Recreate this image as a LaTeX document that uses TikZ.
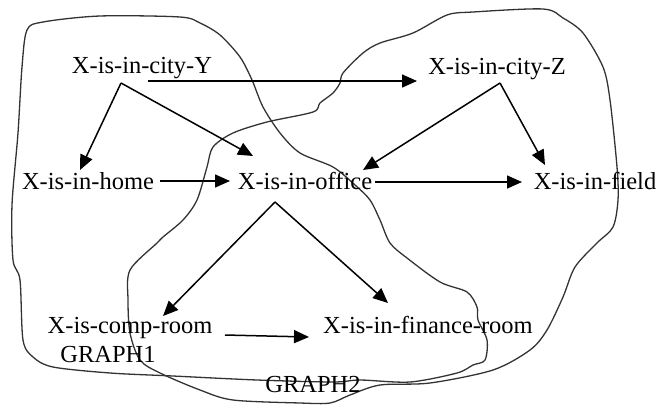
\documentclass[tikz,border=0pt]{standalone}
\usepackage{fontspec}
\setmainfont{Liberation Serif}
\usetikzlibrary{calc,arrows.meta}
\begin{document}
\begin{tikzpicture}[x=1pt,y=-1pt,
  lbl/.style={anchor=base,inner sep=0pt,font=\fontsize{24.5}{29}\selectfont},
  conn/.style={line width=1.5pt,-{Triangle[length=15pt,width=13pt]}},
  blob/.style={line width=1.3pt,draw=black!80}]
\useasboundingbox (0,0) rectangle (671,407);
% outlines
\draw[blob] plot[smooth cycle,tension=0.5] coordinates {(27,30) (43,22) (100,16) (180,17) (200,23) (220,35) (240,57) (252,80) (263,107) (280,133) (300,153) (333,167) (355,185) (370,200) (380,220) (390,243) (407,258) (440,282) (467,292) (477,307) (478,320) (487,340) (485,360) (473,365) (457,373) (410,382) (360,380) (333,382) (257,380) (173,376) (110,373) (53,367) (33,357) (23,340) (20,280) (13,260) (12,205) (18,133) (22,67)};
\draw[blob] plot[smooth cycle,tension=0.5] coordinates {(340,83) (333,93) (320,103) (313,112) (267,122) (233,133) (213,147) (207,167) (197,200) (183,220) (163,237) (157,243) (130,270) (128,300) (130,333) (140,360) (160,373) (200,390) (233,400) (300,403) (330,403) (350,395) (380,385) (430,383) (493,370) (530,350) (547,330) (563,297) (575,267) (597,243) (613,227) (618,200) (617,167) (610,100) (603,67) (583,33) (563,18) (543,9) (473,12) (447,15) (413,33) (380,43) (363,53) (343,73)};
% nodes
\node[lbl] (cityY) at (142,73) {X-is-in-city-Y};
\node[lbl] (cityZ) at (497,74) {X-is-in-city-Z};
\node[lbl] (home) at (88,189) {X-is-in-home};
\node[lbl] (office) at (305,189) {X-is-in-office};
\node[lbl] (field) at (595,189) {X-is-in-field};
\node[lbl] (comp) at (130,333) {X-is-comp-room};
\node[lbl] (finance) at (428,333) {X-is-in-finance-room};
\node[lbl] (g1) at (108,362) {GRAPH1};
\node[lbl] (g2) at (313,392) {GRAPH2};
% connectors
\draw[conn] ($(cityY.base)+(6,8)$) -- ($(cityZ.base)+(-80,7)$);
\draw[conn] ($(cityY.base)+(-21,10)$) -- ($(home.base)+(-8,-19)$);
\draw[conn] ($(cityY.base)+(-21,10)$) -- ($(office.base)+(-52,-33)$);
\draw[conn] ($(home.base)+(72,-8)$) -- ($(office.base)+(-75,-8)$);
\draw[conn] ($(cityZ.base)+(3,9)$) -- ($(office.base)+(58,-19)$);
\draw[conn] ($(cityZ.base)+(3,9)$) -- ($(field.base)+(-50,-24)$);
\draw[conn] ($(office.base)+(70,-7)$) -- ($(field.base)+(-73,-7)$);
\draw[conn] ($(office.base)+(-30,13)$) -- ($(comp.base)+(33,-17)$);
\draw[conn] ($(office.base)+(-30,13)$) -- ($(finance.base)+(-40,-30)$);
\draw[conn] ($(comp.base)+(95,2)$) -- ($(finance.base)+(-119,4)$);
\end{tikzpicture}
\end{document}
